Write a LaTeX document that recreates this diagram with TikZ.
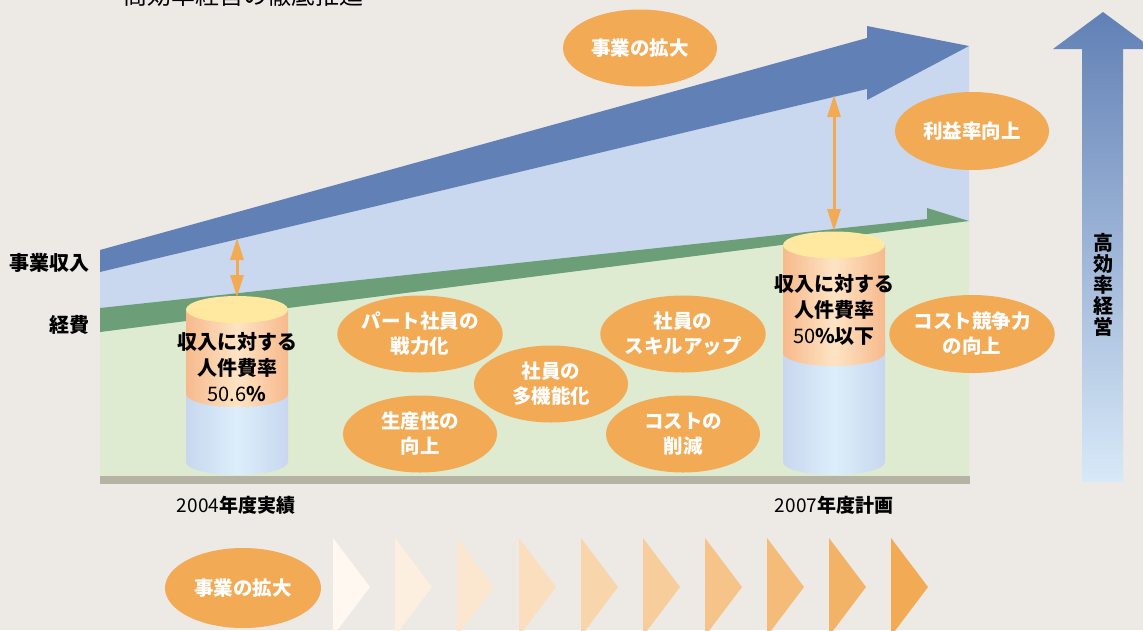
\documentclass[tikz,border=0pt]{standalone}
\usepackage{fontspec}
\setmainfont{Noto Sans CJK JP}
\usetikzlibrary{arrows.meta,shapes.geometric}

\definecolor{bgc}{HTML}{EDE9E5}
\definecolor{incomec}{HTML}{6180B5}
\definecolor{skyc}{HTML}{C9D8EF}
\definecolor{costc}{HTML}{6C9E78}
\definecolor{meadowc}{HTML}{DEEBD1}
\definecolor{basec}{HTML}{B5B3A4}
\definecolor{ovalc}{HTML}{F2AA55}
\definecolor{cylorange}{HTML}{F7B98C}
\definecolor{cylcream}{HTML}{FEE4C4}
\definecolor{cyltop}{HTML}{FFE8A0}
\definecolor{cylblue}{HTML}{C8D7EF}
\definecolor{cylice}{HTML}{DCEEFB}
\definecolor{vertbot}{HTML}{D8E9F8}

\begin{document}
\begin{tikzpicture}[x=1pt,y=-1pt,
  oval/.style={ellipse,fill=ovalc,minimum width=154,minimum height=77,inner sep=0pt,
    text=white,align=center,font=\bfseries\fontsize{19.5}{25}\selectfont},
  cyltext/.style={align=center,font=\bfseries\fontsize{20}{26}\selectfont},
  sidelabel/.style={anchor=east,font=\bfseries\fontsize{20}{22}\selectfont},
  yearlabel/.style={font=\fontsize{19}{22}\selectfont},
  gaparrow/.style={{Triangle[width=13pt,length=22pt]}-{Triangle[width=13pt,length=22pt]},
    line width=3pt,ovalc}]
\useasboundingbox (0,0) rectangle (1143,630);
\fill[bgc] (0,0) rectangle (1143,630);

% panels
\fill[skyc] (100,272) -- (867,89) -- (867,100) -- (969,46) -- (969,222) -- (100,333) -- cycle;
\fill[meadowc] (100,332) -- (969,221) -- (969,478) -- (100,478) -- cycle;

% income and cost arrows
\fill[incomec] (100,250) -- (867,38) -- (867,26) -- (969,46) -- (867,100) -- (867,89) -- (100,272) -- cycle;
\fill[costc] (100,308) -- (927,219) -- (927,208) -- (969,221) -- (100,332) -- cycle;
\fill[basec] (100,476) rectangle (970,484);

% cylinder 2004
\shade[left color=cylblue,right color=cylblue,middle color=cylice]
  (186,380) -- (186,462) arc[start angle=180,end angle=0,x radius=51,y radius=13] -- (288,380) -- cycle;
\shade[left color=cylorange,right color=cylorange,middle color=cylcream]
  (186,309.5) -- (186,394) arc[start angle=180,end angle=0,x radius=51,y radius=13] -- (288,309.5) -- cycle;
\fill[cyltop] (237,309.5) ellipse[x radius=51,y radius=13.5];
\coordinate (cylLtop) at (237,297);
\node[cyltext] (cylLtext) at (237,367) {収入に対する\\人件費率\\{\mdseries 50.6}\%};

% cylinder 2007
\shade[left color=cylblue,right color=cylblue,middle color=cylice]
  (783,340) -- (783,462) arc[start angle=180,end angle=0,x radius=51,y radius=13] -- (885,340) -- cycle;
\shade[left color=cylorange,right color=cylorange,middle color=cylcream]
  (783,245) -- (783,353) arc[start angle=180,end angle=0,x radius=51,y radius=13] -- (885,245) -- cycle;
\fill[cyltop] (834,245) ellipse[x radius=51,y radius=13.5];
\coordinate (cylRtop) at (834,231);
\node[cyltext] (cylRtext) at (834,310) {収入に対する\\人件費率\\{\mdseries 50}\%以下};

% gaps
\coordinate (gapL) at (237,238);
\coordinate (gapR) at (834,95);
\draw[gaparrow] (gapL) -- (cylLtop);
\draw[gaparrow] (gapR) -- (cylRtop);

% measures
\node[oval] (expandTop) at (640,48) {事業の拡大};
\node[oval,minimum height=78] (margin) at (972,131) {利益率向上};
\node[oval,minimum height=78] (compete) at (972,334) {コスト競争力\\の向上};
\node[oval] (parttime) at (420,334) {パート社員の\\戦力化};
\node[oval] (multi) at (551,384) {社員の\\多機能化};
\node[oval] (skill) at (683,334) {社員の\\スキルアップ};
\node[oval] (product) at (420,434) {生産性の\\向上};
\node[oval] (costcut) at (683,434) {コストの\\削減};

% axis labels
\node[sidelabel] (incomeLabel) at (93,263) {事業収入};
\node[sidelabel] (costLabel) at (93,325) {経費};
\node[yearlabel] (year04) at (236,505) {2004\textbf{年度実績}};
\node[yearlabel] (year07) at (834,505) {2007\textbf{年度計画}};

% efficiency arrow
\shade[top color=incomec,bottom color=vertbot]
  (1082,482) -- (1082,49) -- (1053,49) -- (1103,12) -- (1153,49) -- (1123,49) -- (1123,482) -- cycle;
\node[align=center,font=\bfseries\fontsize{20}{21}\selectfont] (effText) at (1103,285) {高\\効\\率\\経\\営};

% business growth steps
\node[oval,minimum height=80,minimum width=156] (expandBot) at (243,588) {事業の拡大};
\foreach \i in {0,...,9}{
  \pgfmathsetmacro\p{8+10.2*\i}
  \fill[ovalc!\p!white] (333+62*\i,538) -- (370+62*\i,587) -- (333+62*\i,636) -- cycle;
}

\node[anchor=base west,font=\fontsize{24}{28}\selectfont] (title) at (120,4) {高効率経営の徹底推進};
\end{tikzpicture}
\end{document}
